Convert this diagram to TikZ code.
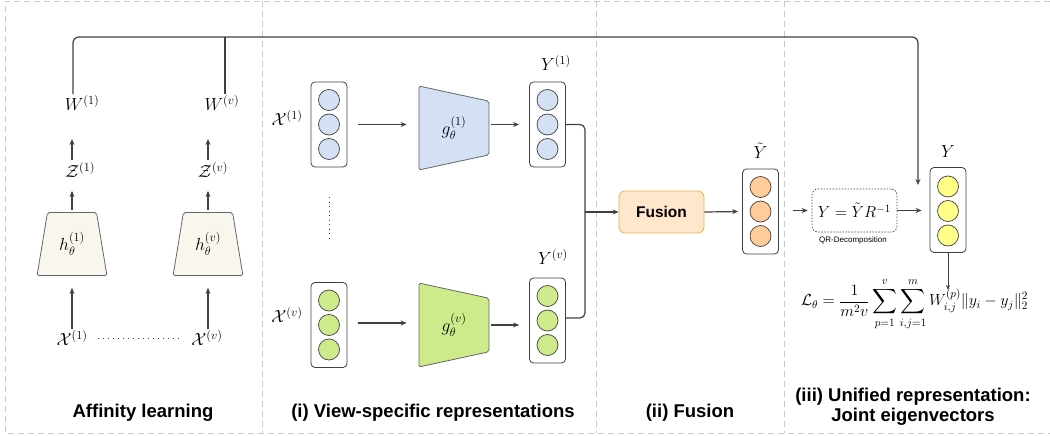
\RequirePackage{fix-cm}
\documentclass[tikz,border=0pt]{standalone}
\usepackage{amsmath}
\usepackage{fontspec}
\setsansfont{Liberation Sans}
\usetikzlibrary{shapes.geometric,arrows.meta}

\definecolor{lineC}{HTML}{404040}
\definecolor{frameC}{HTML}{C8C8C8}
\definecolor{blueF}{HTML}{D4E1F5}
\definecolor{greenF}{HTML}{CDEB8B}
\definecolor{orangeF}{HTML}{FFCC99}
\definecolor{yellowF}{HTML}{FFFF88}
\definecolor{beigeF}{HTML}{F9F7ED}
\definecolor{fusF}{HTML}{FFE6CC}
\definecolor{fusD}{HTML}{E6B34D}

\begin{document}
\begin{tikzpicture}[x=1pt, y=-1pt,
    line/.style={draw=lineC, line width=1.2pt},
    arr/.style={line, -{Stealth[length=6pt,width=5pt]}},
    col/.style={draw=lineC, line width=0.8pt, rounded corners=4pt, minimum width=36pt, minimum height=85pt, inner sep=0pt},
    cir/.style={circle, draw=lineC, line width=0.7pt, minimum size=21pt, inner sep=0pt},
    lbl/.style={font=\fontsize{17.5}{20}\selectfont, inner sep=1pt},
    enc/.style={trapezium, draw=lineC!80, line width=0.8pt, rounded corners=2pt, trapezium stretches=true, inner sep=0pt, font=\fontsize{17.5}{20}\selectfont},
    ttl/.style={font=\sffamily\bfseries\fontsize{18.5}{20}\selectfont, align=center},
    sep/.style={draw=frameC, line width=0.8pt, dash pattern=on 6pt off 4pt}]

  \useasboundingbox (0,0) rectangle (1050,436);

  \draw[sep] (1050,1) -- (5,1) -- (5,433) -- (1050,433);
  \draw[sep] (262,1) -- (262,433);
  \draw[sep] (596,1) -- (596,433);
  \draw[sep] (784,1) -- (784,433);

  \node[lbl] (W1) at (82,103) {$W^{(1)}$};
  \node[lbl] (Wv) at (222,103) {$W^{(v)}$};
  \node[lbl] (Z1) at (80,170) {$\mathcal{Z}^{(1)}$};
  \node[lbl] (Zv) at (213,170) {$\mathcal{Z}^{(v)}$};
  \node[enc, fill=beigeF, trapezium left angle=77, trapezium right angle=77, minimum width=70pt, minimum height=63pt] (h1) at (72,244) {$h_\theta^{(1)}$};
  \node[enc, fill=beigeF, trapezium left angle=77, trapezium right angle=77, minimum width=70pt, minimum height=63pt] (hv) at (208,244) {$h_\theta^{(v)}$};
  \node[lbl] (X1) at (72,338) {$\mathcal{X}^{(1)}$};
  \node[lbl] (Xv) at (207,338) {$\mathcal{X}^{(v)}$};

  \draw[arr, shorten <=1pt, shorten >=27pt] (Z1.north -| h1.north) -- (W1.south -| h1.north);
  \draw[arr, shorten <=1pt, shorten >=27pt] (Zv.north -| hv.north) -- (Wv.south -| hv.north);
  \draw[arr, shorten <=2pt, shorten >=12pt] (h1.north) -- (Z1.south -| h1.north);
  \draw[arr, shorten <=2pt, shorten >=12pt] (hv.north) -- (Zv.south -| hv.north);
  \draw[arr, shorten >=12pt] (X1.north -| h1.south) -- (h1.south);
  \draw[arr, shorten >=12pt] (Xv.north -| hv.south) -- (hv.south);
  \draw[lineC, line width=1pt, dash pattern=on 1pt off 4pt, shorten <=9pt, shorten >=8pt] (X1.east) -- (Xv.west);

  \node[lbl] (lx1) at (287,118) {$\mathcal{X}^{(1)}$};
  \node[col] (x1) at (329,124.5) {};
  \node[cir, fill=blueF] (x1a) at (329,100) {};
  \node[cir, fill=blueF] (x1b) at (329,124.5) {};
  \node[cir, fill=blueF] (x1c) at (329,149) {};

  \node[lbl] (lxv) at (287,315) {$\mathcal{X}^{(v)}$};
  \node[col] (xv) at (329,325) {};
  \node[cir, fill=greenF] (xva) at (329,300.5) {};
  \node[cir, fill=greenF] (xvb) at (329,325) {};
  \node[cir, fill=greenF] (xvc) at (329,349.5) {};

  \draw[lineC, line width=1pt, dash pattern=on 1pt off 3.5pt] (x1.south |- 0,197) -- (xv.north |- 0,238);

  \node[enc, fill=blueF, shape border rotate=270, trapezium left angle=75, trapezium right angle=75, minimum width=84pt, minimum height=70pt] (g1) at (454,128) {$g_\theta^{(1)}$};
  \node[enc, fill=greenF, shape border rotate=270, trapezium left angle=75, trapezium right angle=75, minimum width=84pt, minimum height=70pt] (gv) at (454,325) {$g_\theta^{(v)}$};

  \node[lbl] (ly1) at (556,63) {$Y^{(1)}$};
  \node[col] (y1) at (547.5,124.5) {};
  \node[cir, fill=blueF] (y1a) at (547.5,100) {};
  \node[cir, fill=blueF] (y1b) at (547.5,124.5) {};
  \node[cir, fill=blueF] (y1c) at (547.5,149) {};

  \node[lbl] (lyv) at (553,257) {$Y^{(v)}$};
  \node[col] (yv) at (547.5,320.5) {};
  \node[cir, fill=greenF] (yva) at (547.5,296) {};
  \node[cir, fill=greenF] (yvb) at (547.5,320.5) {};
  \node[cir, fill=greenF] (yvc) at (547.5,345) {};

  \draw[arr, shorten <=11pt, shorten >=12pt] (x1.east) -- (x1.east -| g1.west);
  \draw[arr, shorten <=11pt, shorten >=12pt] (xv.east |- 0,323) -- (gv.west |- 0,323);
  \draw[arr, shorten <=2pt, shorten >=10pt] (g1.east |- y1.east) -- (y1.west);
  \draw[arr, shorten <=2pt, shorten >=10pt] (gv.east) -- (gv.east -| yv.west);

  \coordinate (jn) at (585,212);
  \node[draw=fusD, fill=fusF, rounded corners=6pt, line width=0.8pt, minimum width=85pt, minimum height=42pt, font=\sffamily\bfseries\fontsize{15.5}{18}\selectfont] (fus) at (661.5,212) {Fusion};
  \draw[line, rounded corners=5pt] (y1.east) -| (jn);
  \draw[line, rounded corners=5pt] (yv.east |- 0,318) -| (jn);
  \draw[arr] (jn) -- (fus.west);

  \node[lbl] (lyt) at (760.5,151) {$\tilde{Y}$};
  \node[col] (yt) at (760.5,211.5) {};
  \node[cir, fill=orangeF] (yta) at (760.5,187) {};
  \node[cir, fill=orangeF] (ytb) at (760.5,211.5) {};
  \node[cir, fill=orangeF] (ytc) at (760.5,236) {};
  \draw[arr, shorten >=4pt] (fus.east) -- (yt.west);

  \node[draw=lineC, line width=0.7pt, dash pattern=on 1.5pt off 1.5pt, rounded corners=6pt, minimum width=85pt, minimum height=43pt, inner sep=0pt, font=\fontsize{16}{19}\selectfont] (qr) at (854.5,210.5) {$Y=\tilde{Y}R^{-1}$};
  \node[font=\sffamily\fontsize{8}{9}\selectfont, inner sep=0pt] (qrl) at (853,240.5) {QR-Decomposition};

  \node[lbl] (ly) at (948,152) {$Y$};
  \node[col] (yy) at (948,210) {};
  \node[cir, fill=yellowF] (yya) at (948,186.5) {};
  \node[cir, fill=yellowF] (yyb) at (948,211) {};
  \node[cir, fill=yellowF] (yyc) at (948,235.5) {};

  \draw[arr, shorten <=14pt, shorten >=4pt] (yt.east |- qr.west) -- (qr.west);
  \draw[arr, shorten >=8pt] (qr.east) -- (qr.east -| yy.west);

  \node[font=\fontsize{16}{19}\selectfont, inner sep=0pt] (loss) at (914.5,304) {$\displaystyle \mathcal{L}_\theta = \frac{1}{m^2 v}\sum_{p=1}^{v}\sum_{i,j=1}^{m} W_{i,j}^{(p)}\|y_i-y_j\|_2^2$};
  \coordinate (lin) at (948,290);
  \draw[draw=lineC, line width=0.8pt, -{Stealth[length=5pt,width=4pt]}] (yy.south) -- (lin);

  \coordinate (tr) at (918,37);
  \coordinate (yin) at (918,185);
  \draw[arr, rounded corners=6pt] ([xshift=-9pt]W1.north) |- (tr) -- (yin);
  \draw[line] ([xshift=3pt]Wv.north) -- ([xshift=3pt]Wv.north |- tr);

  \node[ttl] (t0) at (143,413) {Affinity learning};
  \node[ttl] (t1) at (433,413) {(i) View-specific representations};
  \node[ttl] (t2) at (690,413) {(ii) Fusion};
  \node[ttl] (t3) at (913,407) {(iii) Unified representation:\\Joint eigenvectors};
\end{tikzpicture}
\end{document}
